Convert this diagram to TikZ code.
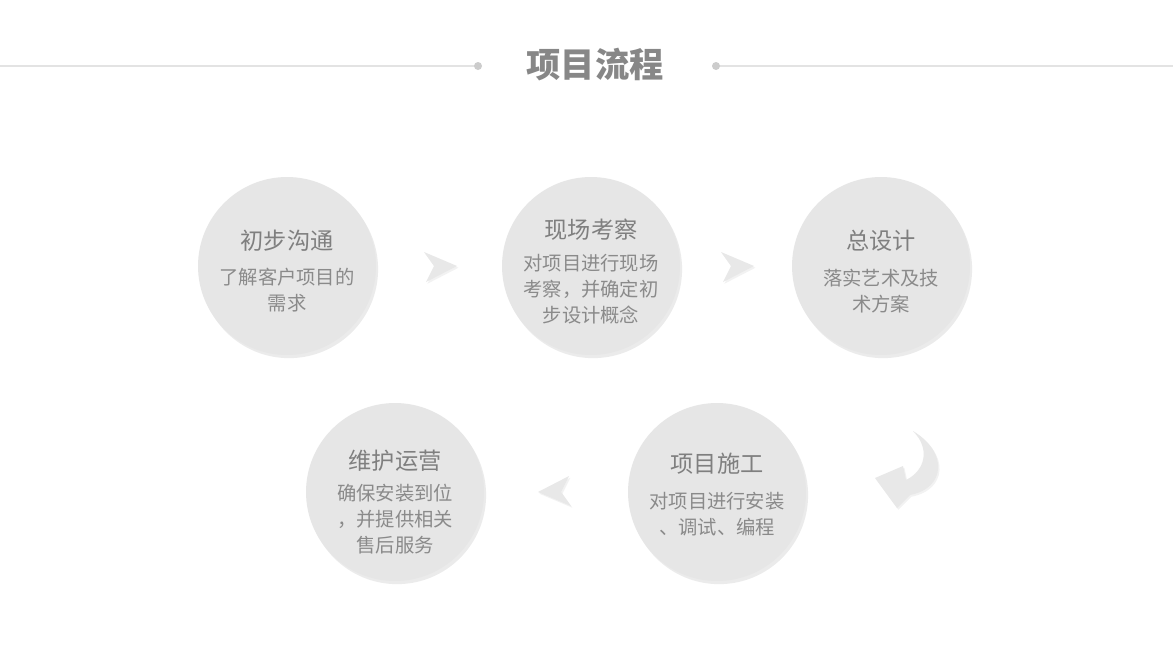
\documentclass[tikz,border=0pt]{standalone}
\usepackage{fontspec}
\setmainfont{Noto Sans CJK SC}
\usetikzlibrary{shadows, calc}

\definecolor{stagefill}{HTML}{E6E6E6}
\definecolor{stagetext}{HTML}{7F7F7F}
\definecolor{titletext}{HTML}{878787}
\definecolor{bodytext}{HTML}{8A8A8A}
\definecolor{rulecolor}{HTML}{E3E3E3}
\definecolor{arrowfill}{HTML}{E8E8E8}

\begin{document}
\begin{tikzpicture}[x=0.02cm, y=-0.02cm,
    stage/.style={circle, fill=stagefill, minimum size=3.56cm, inner sep=0pt,
        drop shadow={shadow xshift=1.2pt, shadow yshift=-1.8pt, fill=black, opacity=0.08}},
    head/.style={text=stagetext, font=\fontsize{13.2}{16}\selectfont, align=center},
    body/.style={text=bodytext, font=\fontsize{11}{14.8}\selectfont, align=center},
    chevron/.pic={\fill[arrowfill, drop shadow={shadow xshift=0.8pt, shadow yshift=-1pt, fill=black, opacity=0.05}]
        (18,0) -- (-15,-14) -- (-5,0) -- (-13,16) -- cycle;}
]
    \useasboundingbox[fill=white] (0,0) rectangle (1173,663);

    % title with side rules
    \node[text=titletext, font=\fontsize{19.5}{22}\selectfont\bfseries] (title) at (595,65) {项目流程};
    \coordinate (dotL) at (478,66);
    \coordinate (dotR) at (716,66);
    \draw[rulecolor, line width=0.8pt] (0,66) -- (dotL);
    \draw[rulecolor, line width=0.8pt] (dotR) -- (1173,66);
    \fill[rulecolor!90!black] (dotL) circle (4);
    \fill[rulecolor!90!black] (dotR) circle (4);

    % stages
    \node[stage] (s1) at (287,266) {};
    \node[stage] (s2) at (591,266) {};
    \node[stage] (s3) at (881,266) {};
    \node[stage] (s4) at (717,492) {};
    \node[stage] (s5) at (395,492) {};

    \node[head] (h1) at ($(s1)+(0,-25)$) {初步沟通};
    \node[body] (b1) at ($(s1)+(0,24)$) {了解客户项目的\\需求};
    \node[head] (h2) at ($(s2)+(0,-36)$) {现场考察};
    \node[body] (b2) at ($(s2)+(0,23)$) {对项目进行现场\\考察，并确定初\\步设计概念};
    \node[head] (h3) at ($(s3)+(0,-25)$) {总设计};
    \node[body] (b3) at ($(s3)+(0,25)$) {落实艺术及技\\术方案};
    \node[head] (h4) at ($(s4)+(0,-28)$) {项目施工};
    \node[body] (b4) at ($(s4)+(0,22)$) {对项目进行安装\\、调试、编程};
    \node[head] (h5) at ($(s5)+(0,-31)$) {维护运营};
    \node[body] (b5) at ($(s5)+(0,27)$) {确保安装到位\\，并提供相关\\售后服务};

    % arrows between stages
    \pic at ($(s1)!0.5!(s2)$) {chevron};
    \pic at ($(s2)!0.5!(s3)$) {chevron};
    \pic[rotate=180] at ($(s4)!0.5!(s5)$) {chevron};

    % turning arrow
    \fill[arrowfill, drop shadow={shadow xshift=0.8pt, shadow yshift=-1pt, fill=black, opacity=0.05}]
        (913,431) .. controls (948,452) and (946,488) .. (910,495)
        -- (897,508) -- (875,478) -- (903,466) -- (906,480)
        .. controls (926,470) and (930,448) .. cycle;
\end{tikzpicture}
\end{document}
